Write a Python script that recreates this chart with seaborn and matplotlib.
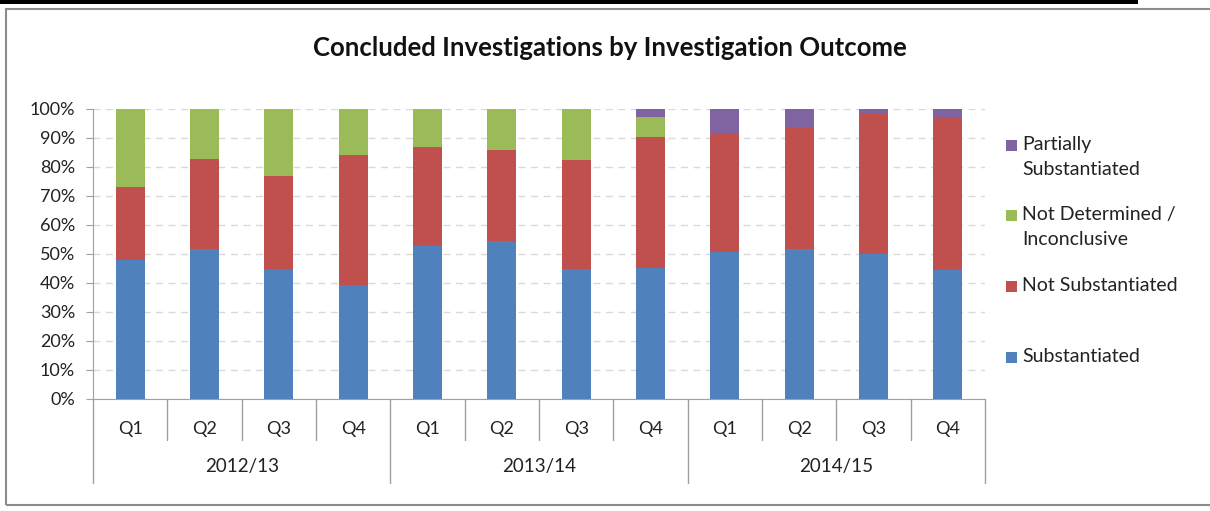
import pandas as pd
import numpy as np
import seaborn as sns
import matplotlib.pyplot as plt
from matplotlib.patches import Rectangle

# datos (porcentaje)
years = ["2012/13", "2013/14", "2014/15"]
quarters = ["Q1", "Q2", "Q3", "Q4"]
substantiated = [47.8, 51.8, 44.8, 39.4, 52.6, 54.5, 44.8, 45.2, 50.6, 51.8, 50.0, 44.4]
not_substantiated = [25.3, 31.1, 32.2, 44.7, 34.2, 31.4, 37.5, 45.1, 40.9, 41.6, 48.3, 52.5]
not_determined = [26.9, 17.1, 23.0, 15.9, 13.2, 14.1, 17.7, 7.1, 0, 0, 0, 0]
partially = [0, 0, 0, 0, 0, 0, 0, 2.6, 8.5, 6.6, 1.7, 3.1]

series = ["Substantiated", "Not Substantiated", "Not Determined /\nInconclusive", "Partially\nSubstantiated"]
colors = ["#4F81BD", "#C0504D", "#9BBB59", "#8064A2"]

periodo = [f"{y} {q}" for y in years for q in quarters]
df = pd.DataFrame({"periodo": periodo,
                   series[0]: substantiated,
                   series[1]: not_substantiated,
                   series[2]: not_determined,
                   series[3]: partially})
# acumulados para apilar
cum = df[series].cumsum(axis=1)

sns.set_style("white")
plt.rcParams['font.family'] = ['Lato', 'DejaVu Sans']

fig = plt.figure(figsize=(12.1, 5.11), dpi=100)
ax = fig.add_axes([0.0769, 0.2192, 0.7372, 0.5675])

# dibujar de arriba hacia abajo para que se vea apilado
for i in range(len(series) - 1, -1, -1):
    sns.barplot(x=df["periodo"], y=cum[series[i]], order=periodo, color=colors[i],
                width=0.39, saturation=1, ax=ax, edgecolor="none")

ax.set_ylim(0, 100)
ax.set_xlim(-0.5, len(periodo) - 0.5)
ax.set_yticks(np.arange(0, 101, 10))
ax.set_yticklabels([f"{v}%" for v in range(0, 101, 10)])
ax.yaxis.grid(True, linestyle=(0, (5, 4)), color="#D9D9D9", linewidth=1)
ax.set_axisbelow(True)
ax.set_xlabel("")
ax.set_ylabel("")
ax.set_xticks(range(len(periodo)))
ax.set_xticklabels(quarters * len(years))
ax.tick_params(axis="x", length=0, pad=16, labelsize=13, colors="#222222")
ax.tick_params(axis="y", length=5, direction="out", color="#A0A0A0", labelsize=13,
               labelcolor="#222222", left=True, pad=8)
for s in ["top", "right"]:
    ax.spines[s].set_visible(False)
ax.spines["left"].set_color("#A0A0A0")
ax.spines["bottom"].set_color("#A0A0A0")

# eje de categorias en dos niveles
trans = ax.get_xaxis_transform()
for k in range(len(periodo) + 1):
    largo = -0.29 if k % 4 == 0 else -0.141
    ax.plot([k - 0.5, k - 0.5], [0, largo], transform=trans, color="#A0A0A0",
            linewidth=1, clip_on=False)
for j, y in enumerate(years):
    ax.text(j * 4 + 1.5, -0.234, y, transform=trans, ha="center", va="center",
            fontsize=13.5, color="#222222")

fig.text(0.504, 0.906, "Concluded Investigations by Investigation Outcome",
         ha="center", va="center", fontsize=18.5, fontweight="bold", color="#111111")

# leyenda a la derecha
ley = [("Partially\nSubstantiated", colors[3], 146), ("Not Determined /\nInconclusive", colors[2], 216),
       ("Not Substantiated", colors[1], 287), ("Substantiated", colors[0], 358)]
for txt, c, ypix in ley:
    fig.patches.append(Rectangle((1006 / 1210, 1 - (ypix + 5) / 511), 11 / 1210, 11 / 511,
                                 transform=fig.transFigure, facecolor=c, edgecolor="none"))
    fig.text(1022 / 1210, 1 - (ypix - 10) / 511, txt, ha="left", va="top",
             fontsize=14, color="#222222", linespacing=1.55)

# marco del grafico y barra superior
fig.patches.append(Rectangle((6 / 1210, 1 - 505 / 511), 1210 / 1210, 496 / 511,
                             transform=fig.transFigure, facecolor="none",
                             edgecolor="#8C8C8C", linewidth=1.5))
fig.patches.append(Rectangle((0, 1 - 4 / 511), 1138 / 1210, 4 / 511,
                             transform=fig.transFigure, facecolor="black", edgecolor="none"))

fig.savefig("out.png", dpi=100)
